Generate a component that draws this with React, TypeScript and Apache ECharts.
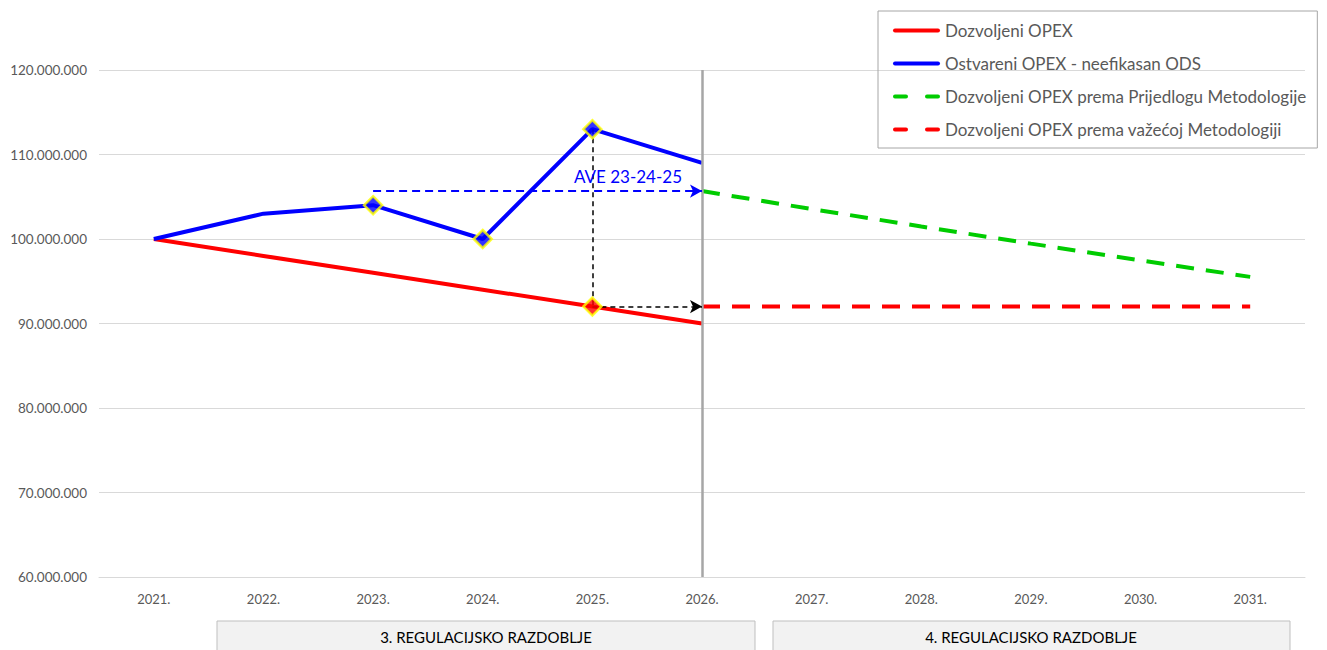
import React, { useEffect, useRef } from "react";
import * as echarts from "echarts";

const years = ["2021.", "2022.", "2023.", "2024.", "2025.", "2026.", "2027.", "2028.", "2029.", "2030.", "2031."];
const allowedOpex = [100000000, 98000000, 96000000, 94000000, 92000000, 90000000, "-", "-", "-", "-", "-"];
const actualOpex = [100000000, 103000000, 104000000, 100000000, 113000000, 109000000, "-", "-", "-", "-", "-"];
const proposedOpex = ["-", "-", "-", "-", "-", 105670000, 103550000, 101480000, 99450000, 97470000, 95520000];
const currentOpex = ["-", "-", "-", "-", "-", 92000000, 92000000, 92000000, 92000000, 92000000, 92000000];
const blueMarkers = ["-", "-", 104000000, 100000000, 113000000, "-", "-", "-", "-", "-", "-"];
const redMarkers = ["-", "-", "-", "-", 92000000, "-", "-", "-", "-", "-", "-"];
const average = 105670000;
const seriesNames = [
  "Dozvoljeni OPEX",
  "Ostvareni OPEX - neefikasan ODS",
  "Dozvoljeni OPEX prema Prijedlogu Metodologije",
  "Dozvoljeni OPEX prema važećoj Metodologiji",
];
const periodLabels = ["3. REGULACIJSKO RAZDOBLJE", "4. REGULACIJSKO RAZDOBLJE"];

const FONT = "Lato, 'Liberation Sans', sans-serif";
const fmt = (v: number) => String(Math.round(v)).replace(/\B(?=(\d{3})+(?!\d))/g, ".");
const SOLID_ICON = "path://M2,0H45A2,2 0 0 1 45,4H2A2,2 0 0 1 2,0Z";
const DASH_ICON = "path://M2,0H13A2,2 0 0 1 13,4H2A2,2 0 0 1 2,0Z M34,0H45A2,2 0 0 1 45,4H34A2,2 0 0 1 34,0Z";

export default function App() {
  const ref = useRef<HTMLDivElement>(null);
  useEffect(() => {
    document.body.style.margin = "0";
    const chart = echarts.init(ref.current!, undefined, { renderer: "svg" });
    const option: any = {
      animation: false,
      backgroundColor: "#ffffff",
      grid: { left: 99, right: 22, top: 70, bottom: 73 },
      legend: {
        orient: "vertical",
        left: 878,
        top: 11,
        padding: [11, 11, 10, 15],
        itemGap: 16,
        itemWidth: 47,
        itemHeight: 4,
        symbolKeepAspect: false,
        borderColor: "#A6A6A6",
        borderWidth: 1,
        textStyle: { fontSize: 17, color: "#595959", fontFamily: FONT },
        data: [
          { name: seriesNames[0], icon: SOLID_ICON },
          { name: seriesNames[1], icon: SOLID_ICON },
          { name: seriesNames[2], icon: DASH_ICON },
          { name: seriesNames[3], icon: DASH_ICON },
        ],
      },
      xAxis: {
        type: "category",
        data: years,
        boundaryGap: true,
        axisLine: { show: true, lineStyle: { color: "#D9D9D9", width: 1 } },
        axisTick: { show: false },
        axisLabel: { color: "#595959", fontSize: 13, fontFamily: FONT, margin: 15 },
      },
      yAxis: {
        type: "value",
        min: 60000000,
        max: 120000000,
        interval: 10000000,
        axisLine: { show: false },
        axisTick: { show: false },
        axisLabel: { color: "#595959", fontSize: 13.5, fontFamily: FONT, margin: 12, formatter: fmt },
        splitLine: { lineStyle: { color: "#D9D9D9", width: 1 } },
      },
      series: [
        {
          name: seriesNames[0],
          type: "line",
          data: allowedOpex,
          symbol: "none",
          lineStyle: { color: "#FF0000", width: 4 },
          itemStyle: { color: "#FF0000" },
          z: 3,
        },
        {
          name: seriesNames[1],
          type: "line",
          data: actualOpex,
          symbol: "none",
          lineStyle: { color: "#0000FF", width: 4 },
          itemStyle: { color: "#0000FF" },
          z: 3,
        },
        {
          name: seriesNames[2],
          type: "line",
          data: proposedOpex,
          symbol: "none",
          lineStyle: { color: "#00CC00", width: 4, type: [18, 12] },
          itemStyle: { color: "#00CC00" },
          z: 3,
        },
        {
          name: seriesNames[3],
          type: "line",
          data: currentOpex,
          symbol: "none",
          lineStyle: { color: "#FF0000", width: 4, type: [18, 12] },
          itemStyle: { color: "#FF0000" },
          z: 3,
        },
        {
          name: "annotations",
          type: "line",
          data: [],
          symbol: "none",
          z: 4,
          markLine: {
            silent: true,
            animation: false,
            symbol: ["none", "none"],
            label: { show: false },
            data: [
              [
                { xAxis: "2026.", yAxis: 120000000, lineStyle: { color: "#A6A6A6", width: 2.5, type: "solid" } },
                { xAxis: "2026.", yAxis: 60000000 },
              ],
              [
                {
                  coord: ["2023.", average],
                  symbol: "none",
                  lineStyle: { color: "#0000FF", width: 2, type: [8, 5] },
                  label: {
                    show: true,
                    position: "insideEndTop",
                    formatter: "AVE 23-24-25",
                    color: "#0000FF",
                    fontSize: 17,
                    fontFamily: FONT,
                    distance: [20, 6],
                  },
                },
                { coord: ["2026.", average], symbol: "arrow", symbolSize: [10, 12] },
              ],
              [
                { coord: ["2025.", 113000000], symbol: "none", lineStyle: { color: "#000000", width: 1.5, type: [5, 4] } },
                { coord: ["2025.", 92000000], symbol: "none" },
              ],
              [
                { coord: ["2025.", 92000000], symbol: "none", lineStyle: { color: "#000000", width: 1.5, type: [5, 4] } },
                { coord: ["2026.", 92000000], symbol: "arrow", symbolSize: [10, 12] },
              ],
            ],
          },
        },
        {
          name: "blueMarkers",
          type: "scatter",
          data: blueMarkers,
          symbol: "diamond",
          symbolSize: 18,
          itemStyle: { color: "#0000FF", borderColor: "#FFFF00", borderWidth: 2.5 },
          z: 5,
        },
        {
          name: "redMarkers",
          type: "scatter",
          data: redMarkers,
          symbol: "diamond",
          symbolSize: 18,
          itemStyle: { color: "#FF0000", borderColor: "#FFFF00", borderWidth: 2.5 },
          z: 5,
        },
      ],
      graphic: [
        {
          type: "group",
          children: [
            {
              type: "rect",
              shape: { x: 217, y: 621, width: 538, height: 40 },
              style: { fill: "#F2F2F2", stroke: "#BFBFBF", lineWidth: 1 },
            },
            {
              type: "text",
              x: 486,
              y: 637,
              style: {
                text: periodLabels[0],
                fill: "#000000",
                fontSize: 15,
                fontFamily: FONT,
                align: "center",
                verticalAlign: "middle",
              },
            },
            {
              type: "rect",
              shape: { x: 773, y: 621, width: 517, height: 40 },
              style: { fill: "#F2F2F2", stroke: "#BFBFBF", lineWidth: 1 },
            },
            {
              type: "text",
              x: 1031,
              y: 637,
              style: {
                text: periodLabels[1],
                fill: "#000000",
                fontSize: 15,
                fontFamily: FONT,
                align: "center",
                verticalAlign: "middle",
              },
            },
          ],
        },
      ],
    };
    chart.setOption(option);
    return () => chart.dispose();
  }, []);
  return <div ref={ref} style={{ width: 1327, height: 650 }} />;
}
